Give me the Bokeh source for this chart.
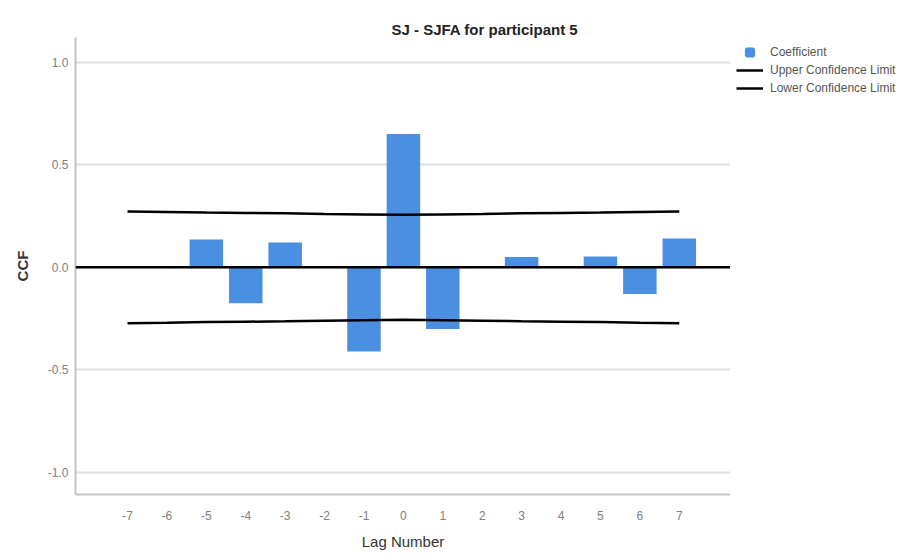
from bokeh.plotting import figure
from bokeh.layouts import row
from bokeh.models import (ColumnDataSource, Span, FixedTicker, Legend, LegendItem, Range1d,
                          CustomJSTickFormatter)
from bokeh.embed import file_html
from bokeh.resources import INLINE

# ---- data ----
lags = [-7, -6, -5, -4, -3, -2, -1, 0, 1, 2, 3, 4, 5, 6, 7]
coefficient = [0.0, 0.0, 0.136, -0.175, 0.121, 0.0, -0.41, 0.65, -0.30, 0.0, 0.05, 0.0, 0.053, -0.13, 0.14]
upper_limit = [0.272, 0.270, 0.267, 0.265, 0.263, 0.260, 0.258, 0.256, 0.258, 0.260, 0.263, 0.265, 0.267, 0.270, 0.272]
lower_limit = [-0.272, -0.270, -0.267, -0.265, -0.263, -0.260, -0.258, -0.256, -0.258, -0.260, -0.263, -0.265, -0.267, -0.270, -0.272]
y_ticks = [-1.0, -0.5, 0.0, 0.5, 1.0]
title_text = "SJ - SJFA for participant 5"
x_label = "Lag Number"
y_label = "CCF"
legend_labels = ["Coefficient", "Upper Confidence Limit", "Lower Confidence Limit"]

FONT = "Liberation Sans"
BAR = "#4A8FE2"

src = ColumnDataSource(dict(lag=lags, coef=coefficient, up=upper_limit, lo=lower_limit))

p = figure(width=730, height=552, output_backend="svg", toolbar_location=None,
           x_range=Range1d(-8.32, 8.3), y_range=Range1d(-1.107, 1.12),
           min_border_left=75, min_border_right=0, min_border_top=37, min_border_bottom=57)

p.background_fill_color = "white"
p.border_fill_color = "white"
p.outline_line_color = None

# title
p.title.text = title_text
p.title.align = "left"
p.title.offset = 316
p.title.standoff = 0
p.title.text_font = FONT
p.title.text_font_size = "15px"
p.title.text_font_style = "bold"
p.title.text_color = "#222222"

# grid
p.xgrid.grid_line_color = None
p.ygrid.ticker = FixedTicker(ticks=y_ticks)
p.ygrid.grid_line_color = "#e0e0e0"
p.ygrid.grid_line_width = 2

# axes
p.xaxis.ticker = FixedTicker(ticks=lags)
p.xaxis.formatter = CustomJSTickFormatter(code="return String(tick)")
p.yaxis.ticker = FixedTicker(ticks=y_ticks)
p.yaxis.formatter = CustomJSTickFormatter(code="return tick.toFixed(1)")
for ax in (p.xaxis, p.yaxis):
    ax.axis_line_color = "#c4c4c4"
    ax.axis_line_width = 2
    ax.major_tick_line_color = None
    ax.minor_tick_line_color = None
    ax.major_tick_out = 0
    ax.major_tick_in = 0
    ax.minor_tick_out = 0
    ax.major_label_text_font = FONT
    ax.major_label_text_color = "#808080"
    ax.major_label_text_font_size = "12px"
    ax.axis_label_text_font = FONT
    ax.axis_label_text_color = "#333333"
    ax.axis_label_text_font_size = "15px"

p.xaxis.major_label_standoff = 16
p.xaxis.axis_label = x_label
p.xaxis.axis_label_text_font_style = "normal"
p.xaxis.axis_label_standoff = 10

p.yaxis.major_label_standoff = 7
p.yaxis.axis_label = y_label
p.yaxis.axis_label_text_font_style = "bold"
p.yaxis.axis_label_standoff = 14

# bars
p.vbar(x="lag", top="coef", bottom=0, width=0.85, source=src,
       fill_color=BAR, line_color=None)

# confidence limits
p.line("lag", "up", source=src, line_color="black", line_width=2.5)
p.line("lag", "lo", source=src, line_color="black", line_width=2.5)

# zero reference line
p.add_layout(Span(location=0, dimension="width", line_color="black", line_width=2.5))

# ---- legend panel (separate figure to the right of the frame) ----
lf = figure(width=186, height=552, output_backend="svg", toolbar_location=None,
            x_range=Range1d(0, 1), y_range=Range1d(0, 1),
            x_axis_type=None, y_axis_type=None,
            min_border_left=0, min_border_right=0, min_border_top=34, min_border_bottom=57)
lf.outline_line_color = None
lf.xgrid.grid_line_color = None
lf.ygrid.grid_line_color = None
lf.border_fill_color = "white"

nan = float("nan")
sq = lf.scatter(x=[nan], y=[nan], marker="square", size=8, fill_color=BAR,
                line_color=BAR, line_width=3)
l1 = lf.line(x=[nan, nan], y=[nan, nan], line_color="black", line_width=2.5)
l2 = lf.line(x=[nan, nan], y=[nan, nan], line_color="black", line_width=2.5)

legend = Legend(items=[
    LegendItem(label=legend_labels[0], renderers=[sq]),
    LegendItem(label=legend_labels[1], renderers=[l1]),
    LegendItem(label=legend_labels[2], renderers=[l2]),
], location="top_left")
legend.margin = 6
legend.padding = 0
legend.spacing = 0
legend.glyph_width = 27
legend.glyph_height = 18
legend.label_height = 18
legend.label_standoff = 7
legend.label_text_font = FONT
legend.label_text_font_size = "12px"
legend.label_text_color = "#555555"
legend.border_line_color = None
legend.background_fill_alpha = 0
lf.add_layout(legend)

layout = row(p, lf, spacing=0)
open("out.html", "w").write(file_html(layout, INLINE))
